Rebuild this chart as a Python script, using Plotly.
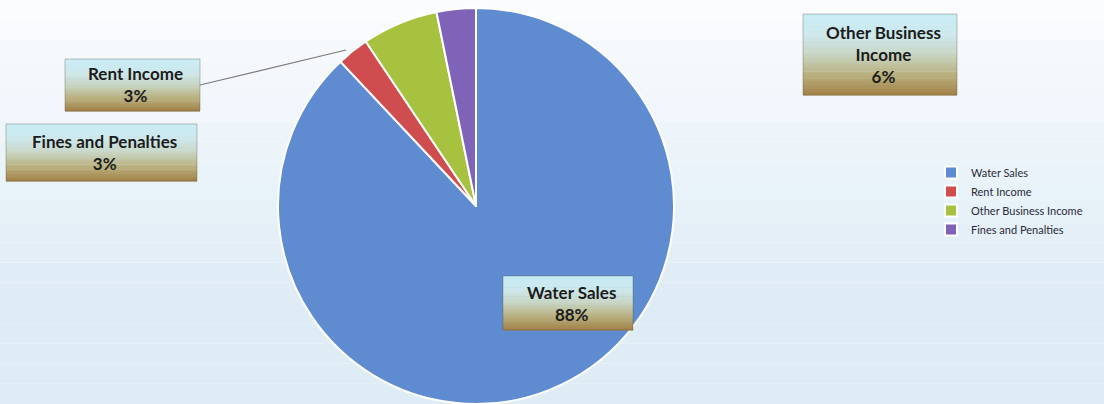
import plotly.graph_objects as go

# ---- data ----
categories = ["Water Sales", "Rent Income", "Other Business Income", "Fines and Penalties"]
values = [88.0, 2.6, 6.2, 3.2]
label_texts = ["Water Sales<br>88%", "Rent Income<br>3%", "Other Business<br>Income<br>6%", "Fines and Penalties<br>3%"]
colors = ["#5f8bd0", "#d04d4f", "#a6c23e", "#7f63b8"]

W, H = 1104, 404

def px(x):
    return x / W

def py(y):
    return 1 - y / H

fig = go.Figure()
fig.add_trace(go.Pie(
    labels=categories,
    values=values,
    sort=False,
    direction="clockwise",
    rotation=0,
    textinfo="none",
    hoverinfo="label+percent",
    marker=dict(colors=colors, line=dict(color="white", width=2)),
    domain=dict(x=[px(278), px(674)], y=[py(404), py(8)]),
    showlegend=True,
))

shapes = []
# background gradient
bg_top = (250, 252, 254)
bg_bot = (222, 236, 246)
nb = 20
for i in range(nb):
    t = i / (nb - 1)
    c = tuple(int(bg_top[k] + (bg_bot[k] - bg_top[k]) * min(1, t * 1.3)) for k in range(3))
    shapes.append(dict(type="rect", xref="paper", yref="paper", layer="below",
                       x0=0, x1=1, y0=py(H * (i + 1) / nb), y1=py(H * i / nb),
                       line=dict(width=0), fillcolor="rgb(%d,%d,%d)" % c))

# gradient label boxes (pixel geometry)
boxes = {
    "Water Sales": (503, 276, 633, 330),
    "Rent Income": (65, 59, 200, 111),
    "Other Business Income": (803, 14, 957, 95),
    "Fines and Penalties": (6, 124, 197, 181),
}
grad = [(200, 236, 246), (206, 232, 236), (200, 214, 196), (186, 178, 130), (164, 132, 74)]

def interp(t):
    n = len(grad) - 1
    i = min(int(t * n), n - 1)
    f = t * n - i
    a, b = grad[i], grad[i + 1]
    return tuple(int(a[k] + (b[k] - a[k]) * f) for k in range(3))

for name, (x0, y0, x1, y1) in boxes.items():
    nbands = 24
    h = (y1 - y0) / nbands
    for i in range(nbands):
        c = interp(i / (nbands - 1))
        shapes.append(dict(type="rect", xref="paper", yref="paper", layer="above",
                           x0=px(x0), x1=px(x1), y0=py(y0 + h * (i + 1)) - 0.001, y1=py(y0 + h * i),
                           line=dict(width=0), fillcolor="rgb(%d,%d,%d)" % c))
    shapes.append(dict(type="rect", xref="paper", yref="paper", layer="above",
                       x0=px(x0), x1=px(x1), y0=py(y1), y1=py(y0),
                       line=dict(width=1, color="rgba(90,80,60,0.35)"), fillcolor="rgba(0,0,0,0)"))

# leader line for Rent Income
shapes.append(dict(type="line", xref="paper", yref="paper", layer="above",
                   x0=px(200), y0=py(85), x1=px(346), y1=py(50),
                   line=dict(color="#7a7a7a", width=1.2)))

annotations = []
for name, txt in zip(categories, label_texts):
    x0, y0, x1, y1 = boxes[name]
    annotations.append(dict(
        x=px((x0 + x1) / 2 + 3), y=py((y0 + y1) / 2), xref="paper", yref="paper",
        xanchor="center", yanchor="middle",
        text="<b>" + txt + "</b>", showarrow=False, align="center",
        font=dict(family="Lato", size=17, color="#1c1c1c"),
    ))

fig.update_layout(
    width=W, height=H,
    margin=dict(l=0, r=0, t=0, b=0),
    paper_bgcolor="white",
    shapes=shapes,
    annotations=annotations,
    legend=dict(x=px(931), y=py(158), xanchor="left", yanchor="top",
                font=dict(family="Lato", size=11, color="#2a2a3a"),
                bgcolor="rgba(0,0,0,0)", itemwidth=30, tracegroupgap=0),
)

fig.write_html("out.html")
